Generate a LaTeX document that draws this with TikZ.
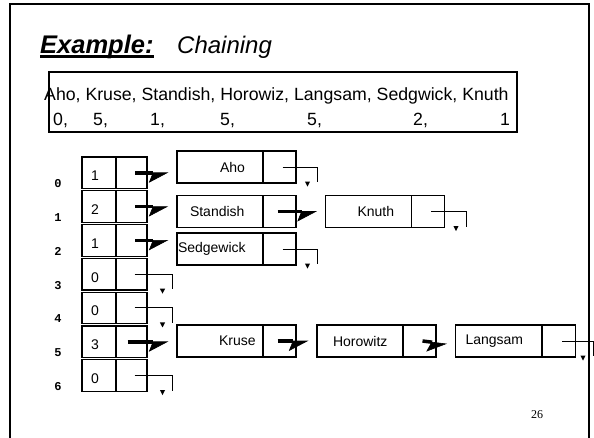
\documentclass[tikz,border=0pt]{standalone}
\usepackage{fontspec}
\setmainfont{Liberation Sans}
\newfontfamily\idxfont{Liberation Mono}
\newfontfamily\pgfont{Liberation Serif}
\usetikzlibrary{arrows.meta,calc}

% count written in the left part of a bucket, lowered by a strut
\newcommand\cellnum[1]{\makebox[34pt][l]{\hspace*{9pt}\rule{0pt}{16pt}#1}}
% key text placed at a given offset from the left edge of a list cell
\newcommand\keytext[2]{\makebox[86pt][l]{\hspace*{#1}#2}}

\tikzset{
  frameline/.style={line width=1.3pt},
  bucket/.style={draw, line width=1.2pt, minimum width=34pt, minimum height=31.5pt,
    inner sep=0pt, font=\fontsize{14}{14}\selectfont},
  slot/.style={draw, line width=1.2pt, minimum width=31pt, minimum height=31.5pt, inner sep=0pt},
  keycell/.style={draw, line width=1.2pt, minimum width=86pt, minimum height=32pt,
    inner sep=0pt, font=\fontsize{14}{14}\selectfont},
  linkcell/.style={draw, line width=1.2pt, minimum width=33pt, minimum height=32pt, inner sep=0pt},
  idx/.style={font=\idxfont\bfseries\fontsize{12}{12}\selectfont, inner sep=0pt},
  hashval/.style={anchor=base west, inner sep=0pt, font=\fontsize{17.7}{17.7}\selectfont},
  link/.style={line width=3.5pt, shorten >=8pt,
    -{Stealth[harpoon,swap,length=19pt,width=20pt,inset=4pt,line width=0.6pt]}},
  pics/nullend/.style={code={
      \draw[line width=1pt] (3,0) -| (#1,15);
      \fill (#1-10,19.5) -- ++(-2.6,-5) -- ++(5.2,0) -- cycle;
  }},
}

\begin{document}
\begin{tikzpicture}[x=1pt, y=-1pt]
\useasboundingbox (0,0) rectangle (594,437);
\clip (0,0) rectangle (594,437);

% slide frame
\draw[frameline] (10,450) -- (10,4) -- (589,4) -- (589,450);

% title
\node[anchor=base west, inner sep=0pt, font=\bfseries\itshape\fontsize{25.5}{25.5}\selectfont]
  (ex) at (40,53) {Example:};
\node[anchor=base west, inner sep=0pt, font=\itshape\fontsize{24}{24}\selectfont]
  (ch) at (177,53) {Chaining};
\draw[line width=3pt] ([yshift=-3.5pt]ex.base west) -- ([yshift=-3.5pt]ex.base east);

% keys and their hash values
\node[draw, line width=1.2pt, minimum width=468pt, minimum height=60pt, inner sep=0pt]
  (keys) at (283,102) {};
\node[hashval] (names) at (44,100) {Aho, Kruse, Standish, Horowiz, Langsam, Sedgwick, Knuth};
\foreach \v/\x [count=\j] in {{0,}/53, {5,}/93, {1,}/150, {5,}/220, {5,}/307, {2,}/413, {1}/500}
  \node[hashval] (h\j) at (\x,125) {\v};

% hash table
\foreach \c [count=\i from 0] in {1,2,1,0,0,3,0} {
  \node[bucket] (b\i) at (99,172.75+33.8*\i) {\cellnum{\c}};
  \node[slot] (s\i) at (131.5,172.75+33.8*\i) {};
  \node[idx] (k\i) at (58,183.75+33.8*\i) {\i};
}

% chained list cells
\node[keycell]  (aho)  at (220,167) {\keytext{43pt}{Aho}};
\node[linkcell] (ahoL) at (279.5,167) {};
\node[keycell]  (sta)  at (220,211.5) {\keytext{13pt}{Standish}};
\node[linkcell] (staL) at (279.5,211.5) {};
\node[keycell]  (knu)  at (368.5,211.5) {\keytext{32pt}{Knuth}};
\node[linkcell] (knuL) at (428,211.5) {};
\node[keycell]  (sed)  at (220,249) {\keytext{1pt}{Sedgewick}};
\node[linkcell] (sedL) at (279.5,249) {};
\node[keycell]  (kru)  at (220,341) {\keytext{42pt}{Kruse}};
\node[linkcell] (kruL) at (279.5,341) {};
\node[keycell]  (hor)  at (360,341) {\keytext{16pt}{Horowitz}};
\node[linkcell] (horL) at (419.5,341) {};
\node[keycell]  (lan)  at (498.5,341) {\keytext{10pt}{Langsam}};
\node[linkcell] (lanL) at (559,341) {};

% pointers
\draw[link] ([xshift=3.5pt]s0.center) -- (s0.center -| aho.west);
\draw[link] ([xshift=3.5pt]s1.center) -- (s1.center -| sta.west);
\draw[link] ([xshift=3.5pt]s2.center) -- (s2.center -| sed.west);
\draw[link] ([xshift=-4pt]s5.center) -- (s5.center -| kru.west);
\draw[link] ([xshift=-2pt]staL.center) -- (staL.center -| knu.west);
\draw[link] ([xshift=-2pt]kruL.center) -- (kruL.center -| hor.west);
\draw[link] ([xshift=3pt]horL.center) -- ([yshift=-4pt]horL.center -| lan.west);

% null pointers
\pic at (s3.center) {nullend=41};
\pic at (s4.center) {nullend=41};
\pic at (s6.center) {nullend=41};
\pic at (ahoL.center) {nullend=38};
\pic at (sedL.center) {nullend=38};
\pic at (knuL.center) {nullend=38};
\pic at (lanL.center) {nullend=34};

% page number
\node[anchor=base, inner sep=0pt, font=\pgfont\fontsize{12}{12}\selectfont] (pg) at (537,418) {26};
\end{tikzpicture}
\end{document}
